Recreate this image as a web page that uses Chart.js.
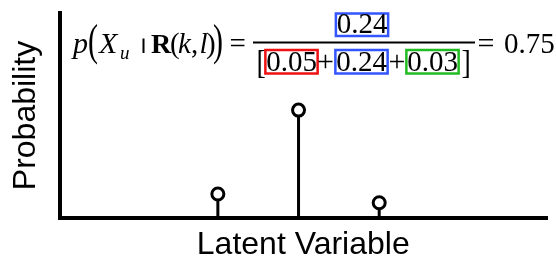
<!DOCTYPE html>
<html>
<head>
<meta charset="utf-8">
<script src="https://cdn.jsdelivr.net/npm/chart.js@4/dist/chart.umd.min.js"></script>
<style>
  html, body { margin: 0; padding: 0; background: #fff; }
  #wrap { width: 556px; height: 262px; }
</style>
</head>
<body>
<div id="wrap"><canvas id="stemChart"></canvas></div>
<script>
// Latent variable states and their probabilities
const states = [-1, 0, 1];
const probs = [0.05, 0.24, 0.03];
const selected = 1;
const boxColors = ['#ee1111', '#3355ff', '#22bb22'];

const points = states.map((s, i) => ({ x: s, y: probs[i] }));

// one short line dataset per stem
const stems = states.map((s, i) => ({
  type: 'line',
  data: [{ x: s, y: 0 }, { x: s, y: probs[i] }],
  borderColor: '#000',
  borderWidth: 3,
  pointRadius: 0,
  order: 2
}));

const serif = '"Liberation Serif", "Times New Roman", serif';

// draws the posterior formula above the plot
const formulaPlugin = {
  id: 'formula',
  afterDraw(chart) {
    const ctx = chart.ctx;
    ctx.save();
    ctx.fillStyle = '#000';
    ctx.textBaseline = 'alphabetic';

    const put = (txt, x, y, style, size, align) => {
      ctx.font = `${style} ${size}px ${serif}`;
      ctx.textAlign = align || 'left';
      ctx.fillText(txt, x, y);
    };
    const tall = (ch, x, cy, size, sy) => {
      ctx.save();
      ctx.translate(x, cy);
      ctx.scale(1, sy);
      put(ch, 0, size * 0.25, 'normal', size);
      ctx.restore();
    };
    const boxed = (txt, cx, top, bottom, base, color) => {
      ctx.font = `normal 29px ${serif}`;
      const w = ctx.measureText(txt).width + 1.5;
      ctx.strokeStyle = color;
      ctx.lineWidth = 2.5;
      ctx.strokeRect(cx - w / 2, top, w, bottom - top);
      put(txt, cx, base, 'normal', 29, 'center');
    };

    const base = 53;
    put('p', 73, base, 'italic', 30);
    tall('(', 88, 44, 30, 1.45);
    put('X', 99, base, 'italic', 30);
    put('u', 120, 59, 'italic', 19);
    ctx.fillRect(142.5, 38.5, 2, 14.5);
    put('R', 151, base, 'bold', 28);
    put('(', 170, base, 'normal', 29);
    put('k', 178, base, 'italic', 29);
    put(',', 191, base, 'normal', 29);
    put('l', 199.5, base, 'italic', 29);
    put(')', 206, base, 'normal', 29);
    tall(')', 213, 44, 30, 1.45);
    put('=', 229.5, base, 'normal', 29);

    // fraction bar
    ctx.fillRect(253, 41.5, 222, 2);

    const fmt = v => v.toFixed(2);
    boxed(fmt(probs[selected]), 362, 13.5, 36, 33, boxColors[selected]);

    tall('[', 256.5, 64, 28, 1.22);
    const centers = [291.5, 361.5, 432.5];
    probs.forEach((v, i) => {
      boxed(fmt(v), centers[i], 50, 73.5, 71, boxColors[i]);
    });
    put('+', 325.5, 71, 'normal', 30, 'center');
    put('+', 397, 71, 'normal', 30, 'center');
    tall(']', 461.5, 64, 28, 1.22);

    const total = probs.reduce((a, b) => a + b, 0);
    put('=', 477.5, base, 'normal', 30);
    put(fmt(probs[selected] / total), 504, base, 'normal', 29);
    ctx.restore();
  }
};

const yZero = 0.0045;

new Chart(document.getElementById('stemChart'), {
  type: 'scatter',
  data: {
    datasets: [
      ...stems,
      {
        type: 'scatter',
        data: points,
        pointRadius: 6,
        pointHoverRadius: 6,
        pointBorderWidth: 3,
        pointBackgroundColor: '#fff',
        pointBorderColor: '#000',
        order: 1
      }
    ]
  },
  options: {
    responsive: true,
    maintainAspectRatio: false,
    animation: false,
    layout: { padding: { top: 13, right: 7, left: 0, bottom: 0 } },
    plugins: {
      legend: { display: false },
      tooltip: { enabled: false }
    },
    scales: {
      x: {
        type: 'linear',
        min: -2.963,
        max: 3.08,
        grid: { display: false, drawTicks: false },
        ticks: { display: false },
        border: { display: true, color: '#000', width: 4 },
        title: {
          display: true,
          text: 'Latent Variable',
          color: '#000',
          font: { family: '"Liberation Sans", Arial, sans-serif', size: 32, lineHeight: 1.05 },
          padding: { top: 10.4, bottom: 0 }
        }
      },
      y: {
        min: -yZero,
        max: 0.46,
        grid: { display: false, drawTicks: false },
        ticks: { display: false },
        border: { display: true, color: '#000', width: 4 },
        title: {
          display: true,
          text: 'Probability',
          color: '#000',
          font: { family: '"Liberation Sans", Arial, sans-serif', size: 32, lineHeight: 1.05 },
          padding: { top: 9.2, bottom: 16.7 }
        }
      }
    }
  },
  plugins: [formulaPlugin]
});
</script>
</body>
</html>
